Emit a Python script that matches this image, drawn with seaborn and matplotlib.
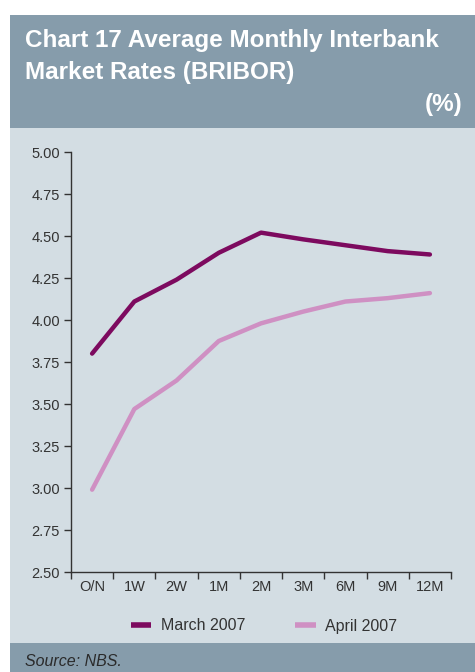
import matplotlib
matplotlib.use("Agg")
import matplotlib.pyplot as plt
from matplotlib.patches import Rectangle
from matplotlib.lines import Line2D
import pandas as pd
import seaborn as sns

# BRIBOR fixings by maturity (% p.a.)
maturities = ["O/N", "1W", "2W", "1M", "2M", "3M", "6M", "9M", "12M"]
march_2007 = [3.80, 4.11, 4.24, 4.40, 4.52, 4.48, 4.445, 4.41, 4.39]
april_2007 = [2.99, 3.47, 3.64, 3.875, 3.98, 4.05, 4.11, 4.13, 4.16]
series_names = ["March 2007", "April 2007"]
series_colors = ["#7d0a5f", "#cf90c3"]
y_ticks = [2.50, 2.75, 3.00, 3.25, 3.50, 3.75, 4.00, 4.25, 4.50, 4.75, 5.00]

df = pd.DataFrame({
    "maturity": maturities * 2,
    "pos": list(range(len(maturities))) * 2,
    "rate": march_2007 + april_2007,
    "series": [series_names[0]] * len(maturities) + [series_names[1]] * len(maturities),
})

sns.set_theme(style="ticks")
plt.rcParams["font.family"] = ["Liberation Sans", "DejaVu Sans"]

W, H = 475, 672
fig = plt.figure(figsize=(W / 100, H / 100), dpi=100)
fig.patch.set_facecolor("white")

def band(x0, y0, x1, y1, color):
    fig.patches.append(Rectangle((x0 / W, 1 - y1 / H), (x1 - x0) / W, (y1 - y0) / H,
                                 transform=fig.transFigure, facecolor=color,
                                 edgecolor="none", zorder=-5))

band(10, 15, W, 128, "#869cab")
band(10, 128, W, 643, "#d3dde3")
band(10, 643, W, H, "#869cab")

fig.text(25 / W, 1 - 40 / H, "Chart 17 Average Monthly Interbank", color="white",
         fontsize=17.5, fontweight="bold", va="center", ha="left")
fig.text(25 / W, 1 - 73 / H, "Market Rates (BRIBOR)", color="white",
         fontsize=17.5, fontweight="bold", va="center", ha="left")
fig.text(462 / W, 1 - 104 / H, "(%)", color="white",
         fontsize=17.5, fontweight="bold", va="center", ha="right")
fig.text(25 / W, 1 - 661 / H, "Source: NBS.", color="#2a2a2a",
         fontsize=11.5, style="italic", va="center", ha="left")

ax_left, ax_right, ax_top, ax_bottom = 71, 451, 152, 572
ax = fig.add_axes([ax_left / W, 1 - ax_bottom / H, (ax_right - ax_left) / W,
                   (ax_bottom - ax_top) / H])
ax.set_facecolor("none")

sns.lineplot(data=df, x="pos", y="rate", hue="series", hue_order=series_names,
             palette=series_colors, linewidth=3.2, ax=ax, legend=False,
             solid_capstyle="round")

ax.set_xlim(-0.5, len(maturities) - 0.5)
ax.set_ylim(2.5, 5.0)
ax.set_yticks(y_ticks)
ax.set_yticklabels([f"{v:.2f}" for v in y_ticks])
ax.set_xticks(range(len(maturities)))
ax.set_xticklabels(maturities)
ax.set_xticks([i - 0.5 for i in range(len(maturities) + 1)], minor=True)
ax.tick_params(axis="x", which="major", bottom=True, length=0, pad=6)
ax.tick_params(axis="x", which="minor", bottom=True, length=5, width=1,
               color="#333333", direction="out")
ax.tick_params(axis="y", which="major", left=True, length=5, width=1,
               color="#333333", direction="out", pad=3)
ax.tick_params(labelsize=10.5, labelcolor="#333333")
ax.set_xlabel("")
ax.set_ylabel("")
for side in ["top", "right"]:
    ax.spines[side].set_visible(False)
for side in ["left", "bottom"]:
    ax.spines[side].set_color("#333333")
    ax.spines[side].set_linewidth(1.0)

# Legend drawn below the axes
handles = [Line2D([0], [0], color=c, linewidth=4, solid_capstyle="butt") for c in series_colors]
fig.legend(handles, series_names, loc="center", bbox_to_anchor=(264 / W, 1 - 626 / H),
           ncol=2, frameon=False, fontsize=11.5, handlelength=1.3, columnspacing=3.1,
           handletextpad=0.6, labelcolor="#333333")

fig.savefig("out.png", dpi=100, facecolor=fig.get_facecolor())
